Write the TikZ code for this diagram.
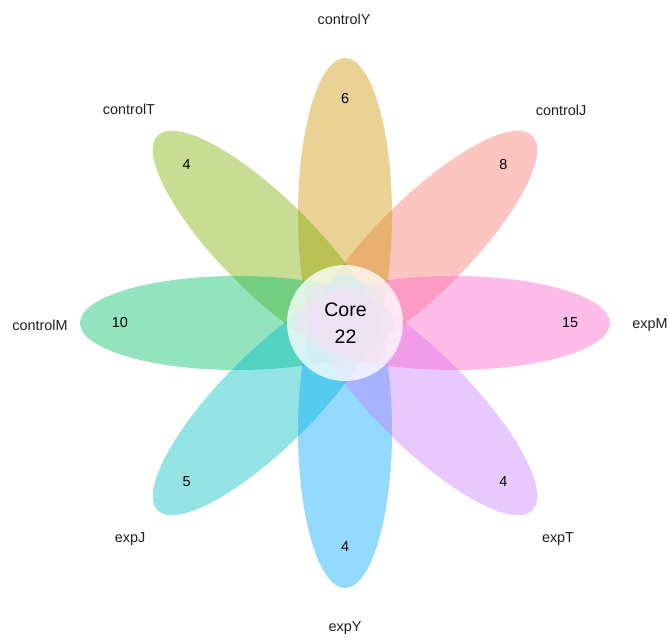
\documentclass[tikz,border=0pt]{standalone}
\usepackage{fontspec}
\setmainfont{Liberation Sans}
\usetikzlibrary{calc}
\definecolor{cJ}{HTML}{F8766D}
\definecolor{cY}{HTML}{CD9600}
\definecolor{cT}{HTML}{7CAE00}
\definecolor{cM}{HTML}{00BE67}
\definecolor{eJ}{HTML}{00BFC4}
\definecolor{eY}{HTML}{00A9FF}
\definecolor{eT}{HTML}{C77CFF}
\definecolor{eM}{HTML}{FF61CC}
\tikzset{
  petal/.style={fill=#1, fill opacity=0.42},
  lbl/.style={font=\fontsize{14.4}{17}\selectfont, text=black!88, inner sep=0pt},
  num/.style={font=\fontsize{14.4}{17}\selectfont, text=black, inner sep=0pt},
  coretxt/.style={font=\fontsize{19.5}{22}\selectfont, text=black, inner sep=0pt}
}
\newcommand{\mypetal}[2]{%
  \begin{scope}[shift={(345,316)}, rotate=#1]
    \fill[petal=#2] (108,0) ellipse [x radius=157, y radius=47];
  \end{scope}}
\begin{document}
\begin{tikzpicture}[x=1pt,y=1pt]
\useasboundingbox (0,0) rectangle (668,639);
\fill[white] (0,0) rectangle (668,639);
\mypetal{45}{cJ}
\mypetal{90}{cY}
\mypetal{135}{cT}
\mypetal{180}{cM}
\mypetal{225}{eJ}
\mypetal{270}{eY}
\mypetal{315}{eT}
\mypetal{0}{eM}
\fill[white, fill opacity=0.78] (345,316) circle [radius=58];
% numbers
\node[num] (n6)  at ($(345,316)+(90:224)$) {6};
\node[num] (n8)  at ($(345,316)+(45:224)$) {8};
\node[num] (n15) at ($(345,316)+(0:225)$) {15};
\node[num] (n4b) at ($(345,316)+(315:224)$) {4};
\node[num] (n4c) at ($(345,316)+(270:224)$) {4};
\node[num] (n5)  at ($(345,316)+(225:224)$) {5};
\node[num] (n10) at ($(345,316)+(180:225)$) {10};
\node[num] (n4a) at ($(345,316)+(135:224)$) {4};
% labels
\node[lbl] (lcY) at (344,620) {controlY};
\node[lbl] (lcJ) at (561,529) {controlJ};
\node[lbl] (leM) at (650,314) {expM};
\node[lbl] (leT) at (558,100) {expT};
\node[lbl] (leY) at (345,11) {expY};
\node[lbl] (leJ) at (130,100) {expJ};
\node[lbl] (lcM) at (40,314) {controlM};
\node[lbl] (lcT) at (129,530) {controlT};
% core
\node[coretxt] (core) at (345.5,329) {Core};
\node[coretxt] (corenum) at (345.5,302) {22};
\end{tikzpicture}
\end{document}
